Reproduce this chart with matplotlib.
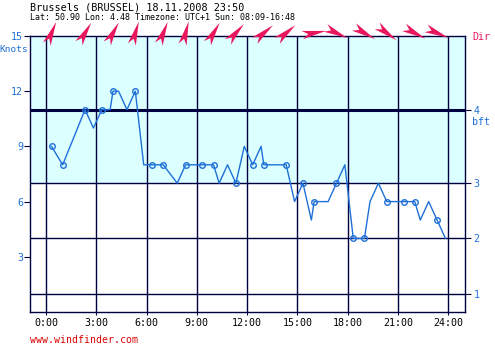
import matplotlib
matplotlib.use("Agg")
import matplotlib.pyplot as plt
from matplotlib.patches import Polygon
from matplotlib import transforms

# observations (local time) and wind speed in knots
obs_times = ["0:20", "1:00", "2:20", "2:50", "3:20", "3:50", "4:00", "4:20", "4:50",
             "5:20", "5:50", "6:20", "7:00", "7:50", "8:20", "9:20", "10:00", "10:20",
             "10:50", "11:20", "11:50", "12:20", "12:50", "13:00", "14:20", "14:50",
             "15:20", "15:50", "16:00", "16:50", "17:20", "17:50", "18:20", "19:00",
             "19:20", "19:50", "20:20", "21:20", "22:00", "22:20", "22:50", "23:20", "23:50"]
speeds = [9, 8, 11, 10, 11, 11, 12, 12, 11,
          12, 8, 8, 8, 7, 8, 8, 8, 7,
          8, 7, 9, 8, 9, 8, 8, 6,
          7, 5, 6, 6, 7, 8, 4, 4,
          6, 7, 6, 6, 6, 5, 6, 5, 4]
# hourly reports get a marker
marked_times = ["0:20", "1:00", "2:20", "3:20", "4:00", "5:20", "6:20", "7:00", "8:20",
                "9:20", "10:00", "11:20", "12:20", "13:00", "14:20", "15:20", "16:00",
                "17:20", "18:20", "19:00", "20:20", "21:20", "22:00", "23:20"]

# wind direction arrows (direction wind comes from, degrees)
dir_times = ["0:20", "2:20", "4:00", "5:20", "7:00", "8:20", "10:00", "11:20",
             "13:00", "14:20", "16:00", "17:20", "19:00", "20:20", "22:00", "23:20"]
dir_from = [203, 211, 209, 197, 202, 195, 211, 222,
            230, 230, 260, 295, 300, 307, 298, 293]

bft_levels = [1, 4, 7, 11]
bft_labels = ["1", "2", "3", "4"]
hour_ticks = [0, 3, 6, 9, 12, 15, 18, 21, 24]
knot_ticks = [3, 6, 9, 12, 15]


def to_hours(s):
    h, m = s.split(":")
    return int(h) + int(m) / 60.0


t = [to_hours(s) for s in obs_times]
marks = [i for i, s in enumerate(obs_times) if s in marked_times]

NAVY = "#000040"
BLUE = "#1f70d8"
RED = "#e8175d"
MONO = "DejaVu Sans Mono"

fig = plt.figure(figsize=(4.95, 3.51), dpi=100)
ax = fig.add_axes([30 / 495, 39 / 351, 435 / 495, 276 / 351])
ax.set_xlim(-0.95, 25.0)
ax.set_ylim(0, 15)

ax.axhspan(7, 15, color="#dcffff", zorder=0)
for h in hour_ticks:
    ax.axvline(h, color=NAVY, lw=1, zorder=1)
for lv in bft_levels:
    ax.axhline(lv, color=NAVY, lw=2.2 if lv == 11 else 1, zorder=1)

ax.plot(t, speeds, color=BLUE, lw=1, marker="o", markevery=marks, ms=4,
        mfc="none", mec=BLUE, mew=1, zorder=3)

for s in ax.spines.values():
    s.set_color(NAVY)
    s.set_linewidth(1)

ax.set_xticks(hour_ticks)
ax.set_xticklabels(["%d:00" % h for h in hour_ticks], fontfamily=MONO, fontsize=7.2)
ax.set_yticks(knot_ticks)
ax.set_yticklabels([str(k) for k in knot_ticks], fontfamily=MONO, fontsize=7.2, color=BLUE)
ax.tick_params(axis="x", length=2, color=NAVY, pad=2)
ax.tick_params(axis="y", length=4, color=NAVY, pad=1)

ax2 = ax.twinx()
ax2.set_ylim(0, 15)
ax2.set_yticks(bft_levels)
ax2.set_yticklabels(bft_labels, fontfamily=MONO, fontsize=7.2, color=BLUE)
ax2.tick_params(axis="y", length=4, color=NAVY, pad=2)
for s in ax2.spines.values():
    s.set_visible(False)
# "4" sits on the line, "bft" hangs below it
ax.text(1.016, (11 - 0.65) / 15, "bft", transform=ax.transAxes, fontfamily=MONO,
        fontsize=7.2, color=BLUE, va="center", ha="left")

ax.text(-0.005, 0.95, "Knots", transform=ax.transAxes, fontfamily=MONO, fontsize=6.8,
        color=BLUE, ha="right", va="center")
ax.text(1.018, 0.995, "Dir", transform=ax.transAxes, fontfamily=MONO, fontsize=7.2,
        color=RED, ha="left", va="center")

fig.text(30 / 495, 1 - 7 / 351, "Brussels (BRUSSEL) 18.11.2008 23:50", fontfamily=MONO,
         fontsize=7.3, ha="left", va="center")
fig.text(30 / 495, 1 - 17 / 351, "Lat: 50.90 Lon: 4.48 Timezone: UTC+1 Sun: 08:09-16:48",
         fontfamily=MONO, fontsize=6.0, ha="left", va="center")
fig.text(30 / 495, 1 - 340 / 351, "www.windfinder.com", fontfamily=MONO, fontsize=7.1,
         color="#dd0000", ha="left", va="center")

# direction darts, drawn in pixel units around each time
L, W, N = 12.0, 4.2, 6.0
dart = [(L, 0), (-L, W), (-L + N, 0), (-L, -W)]
for ts, d in zip(dir_times, dir_from):
    ang = 270 - d
    tr = (transforms.Affine2D().rotate_deg(ang).translate(0, 3).scale(1 / 100.0)
          + fig.dpi_scale_trans
          + transforms.ScaledTranslation(to_hours(ts), 15, ax.transData))
    ax.add_patch(Polygon(dart, closed=True, transform=tr, color=RED, clip_on=False,
                         zorder=5, lw=0))

fig.savefig("out.png", dpi=100)
